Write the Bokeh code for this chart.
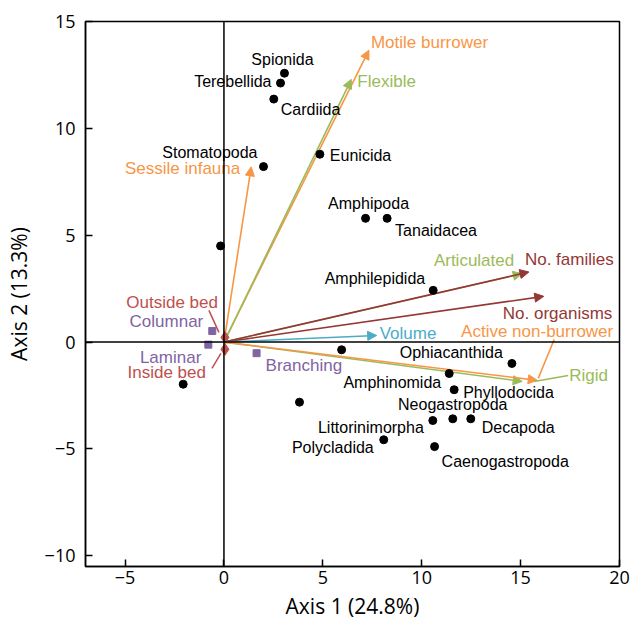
from bokeh.plotting import figure
from bokeh.models import Arrow, NormalHead, Span, ColumnDataSource, FixedTicker, Range1d
from bokeh.embed import file_html
from bokeh.resources import INLINE
from bokeh.core.properties import value

# ---------------- data ----------------
taxa = ["Spionida", "Terebellida", "Cardiida", "Stomatopoda", "", "Eunicida",
        "Amphipoda", "Tanaidacea", "Amphilepidida", "", "", "",
        "Ophiacanthida", "Amphinomida", "Phyllodocida", "Littorinimorpha",
        "Neogastropoda", "Decapoda", "Polycladida", "Caenogastropoda"]
taxa_x = [3.06, 2.86, 2.52, 2.00, -0.17, 4.85,
          7.16, 8.25, 10.58, -2.06, 3.82, 5.95,
          14.56, 11.39, 11.64, 10.56,
          11.57, 12.48, 8.08, 10.65]
taxa_y = [12.58, 12.12, 11.37, 8.21, 4.50, 8.79,
          5.79, 5.79, 2.42, -1.97, -2.81, -0.36,
          -1.00, -1.47, -2.23, -3.67,
          -3.59, -3.59, -4.57, -4.89]

vectors = ["Motile burrower", "Flexible", "Sessile infauna", "Articulated",
           "No. families", "No. organisms", "Volume", "Rigid", "Active non-burrower"]
vec_x = [7.33, 6.44, 1.38, 15.08, 15.42, 16.17, 7.72, 15.08, 15.84]
vec_y = [13.66, 12.29, 8.20, 3.20, 3.28, 2.14, 0.31, -1.84, -1.79]

growth_forms = ["Columnar", "Laminar", "Branching"]
growth_x = [-0.59, -0.79, 1.65]
growth_y = [0.52, -0.12, -0.52]

beds = ["Outside bed", "Inside bed"]
bed_x = [0.05, 0.05]
bed_y = [0.22, -0.34]

x_ticks = [-5, 0, 5, 10, 15, 20]
y_ticks = [-10, -5, 0, 5, 10, 15]
x_title = "Axis 1 (24.8%)"
y_title = "Axis 2 (13.3%)"

# ---------------- styles ----------------
ORANGE = "#F79646"
GREEN = "#9BBB59"
DRED = "#953735"
BLUE = "#4BACC6"
PURPLE = "#8064A2"
RED = "#C0504D"
LABEL_FONT = "Liberation Sans"
TICK_FONT = "Open Sans"

vec_colors = [ORANGE, GREEN, ORANGE, GREEN, DRED, DRED, BLUE, GREEN, ORANGE]

# label placement (pixel offsets from the point, alignment)
taxa_lab = [(-2, -14, "center"), (-9, -2, "right"), (7, 10, "left"), (-6, -14, "right"),
            (0, 0, "left"), (10, 1, "left"),
            (3, -15, "center"), (8, 12, "left"), (-8, -12, "right"),
            (0, 0, "left"), (0, 0, "left"), (0, 0, "left"),
            (-9, -11, "right"), (-8, 9, "right"), (9, 3, "left"), (-9, 7, "right"),
            (0, -14, "center"), (11, 9, "left"), (-10, 8, "right"), (7, 15, "left")]
vec_lab = [(2, -8, "left"), (6, 2, "left"), (-11, 2, "right"), (-8, -13, "right"),
           (-4, -12, "left"), (-41, 17, "left"), (3, -2, "left"), (47, -6, "left"),
           (76, -49, "right")]
growth_lab = [(-9, -9, "right"), (-7, 13, "right"), (9, 12, "left")]
bed_lab = [(-7, -35, "right"), (-19, 23, "right")]

W, H = 632, 625
L, R, T, B = 85, 13, 21, 59
X0, X1 = -7, 20
Y0, Y1 = -10.5, 15

p = figure(width=W, height=H, output_backend="svg", toolbar_location=None,
           x_range=Range1d(X0, X1), y_range=Range1d(Y0, Y1),
           min_border_left=L, min_border_right=R, min_border_top=T, min_border_bottom=B)
p.xgrid.visible = False
p.ygrid.visible = False
p.outline_line_color = "black"
p.outline_line_width = 1.5
p.outline_line_alpha = 1
p.background_fill_color = "white"
p.border_fill_color = "white"

for ax, ticks in ((p.xaxis[0], x_ticks), (p.yaxis[0], y_ticks)):
    ax.ticker = FixedTicker(ticks=ticks)
    ax.major_tick_in = 7
    ax.major_tick_out = 0
    ax.minor_tick_line_color = None
    ax.axis_line_width = 1.5
    ax.major_tick_line_width = 1.5
    ax.axis_line_color = "black"
    ax.major_tick_line_color = "black"
    ax.major_label_text_font = TICK_FONT
    ax.major_label_text_font_size = "18px"
    ax.major_label_text_color = "black"
    ax.axis_label_text_font = TICK_FONT
    ax.axis_label_text_font_size = "21px"
    ax.axis_label_text_font_style = "normal"
    ax.axis_label_text_color = "black"
p.xaxis.axis_label = x_title
p.yaxis.axis_label = y_title
p.xaxis.major_label_standoff = 4
p.yaxis.major_label_standoff = 10
p.xaxis.axis_label_standoff = 5
p.yaxis.axis_label_standoff = 9

p.add_layout(Span(location=0, dimension="height", line_color="black", line_width=1.5))
p.add_layout(Span(location=0, dimension="width", line_color="black", line_width=1.5))

px_x = (W - L - R) / (X1 - X0)
px_y = (H - T - B) / (Y1 - Y0)

# vectors
for vx, vy, c in zip(vec_x, vec_y, vec_colors):
    p.add_layout(Arrow(x_start=0, y_start=0, x_end=vx, y_end=vy,
                       line_color=c, line_width=1.6, level="underlay",
                       end=NormalHead(size=9, fill_color=c, line_color=c, line_width=1)))

# leader lines for labels
def seg(ax, ay, d0, d1, color):
    p.line([ax + d0[0] / px_x, ax + d1[0] / px_x],
           [ay - d0[1] / px_y, ay - d1[1] / px_y], line_color=color, line_width=1.5)

i_rigid = vectors.index("Rigid")
i_anb = vectors.index("Active non-burrower")
seg(vec_x[i_rigid], vec_y[i_rigid], (46, -6), (12, 0), GREEN)
seg(vec_x[i_anb], vec_y[i_anb], (17, -41), (1, -2), ORANGE)
seg(bed_x[0], bed_y[0], (-16, -27), (-6, -5), RED)
seg(bed_x[1], bed_y[1], (-13, 19), (-4, 4), RED)

# markers
p.scatter(taxa_x, taxa_y, size=8, color="black")
p.scatter(growth_x, growth_y, marker="square", size=7, color=PURPLE)
p.scatter(bed_x, bed_y, marker="diamond", size=12, color=RED)


def labels(names, xs, ys, placement, colors, size):
    src = ColumnDataSource(dict(
        x=xs, y=ys, t=names,
        dx=[a[0] for a in placement], dy=[a[1] for a in placement],
        al=[a[2] for a in placement], c=colors))
    p.text("x", "y", text="t", x_offset="dx", y_offset="dy", text_align="al",
           text_color="c", text_baseline="middle", text_font=value(LABEL_FONT),
           text_font_size=size, source=src)

labels(taxa, taxa_x, taxa_y, taxa_lab, ["black"] * len(taxa), "16px")
labels(vectors, vec_x, vec_y, vec_lab, vec_colors, "17px")
labels(growth_forms, growth_x, growth_y, growth_lab, [PURPLE] * 3, "17px")
labels(beds, bed_x, bed_y, bed_lab, [RED] * 2, "17px")

open("out.html", "w").write(file_html(p, INLINE))
